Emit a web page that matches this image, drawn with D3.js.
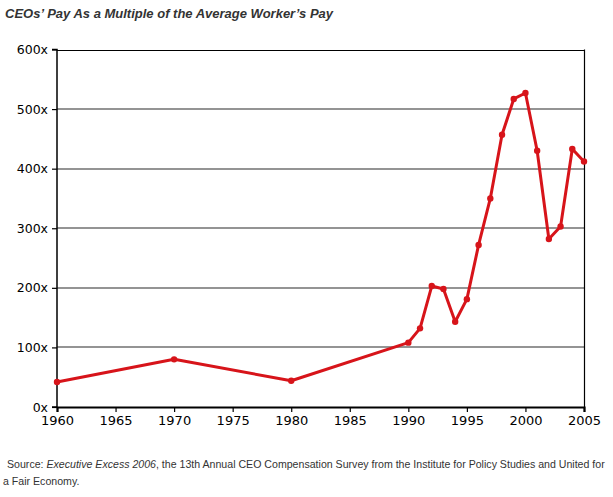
<!DOCTYPE html>
<html><head><meta charset="utf-8">
<script src="https://cdn.jsdelivr.net/npm/d3@7"></script>
<style>body{margin:0;background:#fff;}svg{display:block;}</style>
</head><body>
<script>
const years = [1960,1970,1980,1990,1991,1992,1993,1994,1995,1996,1997,1998,1999,2000,2001,2002,2003,2004,2005];
const ratios = [42,80,44,108,132,203,198,143,181,272,350,457,517,527,430,282,303,433,412];
const yTicks = [0,100,200,300,400,500,600];
const xTicks = [1960,1965,1970,1975,1980,1985,1990,1995,2000,2005];
const title = "CEOs\u2019 Pay As a Multiple of the Average Worker\u2019s Pay";

const W=613,H=497;
const svg=d3.select("body").append("svg").attr("width",W).attr("height",H);
const L=57,R=584,T=49.5,B=407;
const x=d3.scaleLinear().domain([1960,2005]).range([L,R]);
const y=d3.scaleLinear().domain([0,600]).range([B,T]);

svg.append("text").attr("x",5).attr("y",18).text(title)
  .attr("font-family","Liberation Sans, Arial, sans-serif").attr("font-size",13)
  .attr("font-weight","bold").attr("font-style","italic").attr("fill","#333");

// gridlines
svg.append("g").selectAll("line").data(yTicks.filter(d=>d>0&&d<600)).join("line")
  .attr("x1",L).attr("x2",R).attr("y1",d=>Math.round(y(d))).attr("y2",d=>Math.round(y(d)))
  .attr("stroke","#949494").attr("stroke-width",2);

// frame
svg.append("line").attr("x1",L).attr("x2",R+0.5).attr("y1",Math.round(T)+0.5).attr("y2",Math.round(T)+0.5).attr("stroke","#000").attr("stroke-width",1.2);
svg.append("line").attr("x1",R+0.5).attr("x2",R+0.5).attr("y1",T).attr("y2",B).attr("stroke","#000").attr("stroke-width",1.2);

const fam="DejaVu Sans, Verdana, sans-serif";
const yAxis=d3.axisLeft(y).tickValues(yTicks).tickFormat(d=>d+"x").tickSize(5).tickPadding(4);
const gy=svg.append("g").attr("transform",`translate(${L},0)`).call(yAxis);
gy.select(".domain").attr("stroke","#000").attr("stroke-width",1.5);
gy.selectAll(".tick line").attr("stroke","#000").attr("stroke-width",1.2);
gy.selectAll("text").attr("font-family",fam).attr("font-size",12.5).attr("fill","#000");

const xAxis=d3.axisBottom(x).tickValues(xTicks).tickFormat(d3.format("d")).tickSize(5).tickPadding(4);
const gx=svg.append("g").attr("transform",`translate(0,${B})`).call(xAxis);
gx.select(".domain").attr("stroke","#000").attr("stroke-width",2.2);
gx.selectAll(".tick line").attr("stroke","#000").attr("stroke-width",1.2);
gx.selectAll("text").attr("font-family",fam).attr("font-size",13).attr("fill","#000");
gy.select(".domain").attr("d",`M-5,${T}H0V${B}H-5`);

const data=years.map((yr,i)=>({yr,v:ratios[i]}));
svg.append("path").datum(data)
  .attr("d",d3.line().x(d=>x(d.yr)).y(d=>y(d.v)))
  .attr("fill","none").attr("stroke","#d7141a").attr("stroke-width",3).attr("stroke-linejoin","round");
svg.append("g").selectAll("circle").data(data).join("circle")
  .attr("cx",d=>x(d.yr)).attr("cy",d=>y(d.v)).attr("r",3.2).attr("fill","#d7141a");

const src=svg.append("text").attr("x",7).attr("y",468)
  .attr("font-family","Liberation Sans, Arial, sans-serif").attr("font-size",10.6).attr("fill","#333");
src.append("tspan").text("Source: ");
src.append("tspan").attr("font-style","italic").text("Executive Excess 2006");
src.append("tspan").text(", the 13th Annual CEO Compensation Survey from the Institute for Policy Studies and United for");
svg.append("text").attr("x",3).attr("y",485)
  .attr("font-family","Liberation Sans, Arial, sans-serif").attr("font-size",10.6).attr("fill","#333")
  .text("a Fair Economy.");
</script>
</body></html>
